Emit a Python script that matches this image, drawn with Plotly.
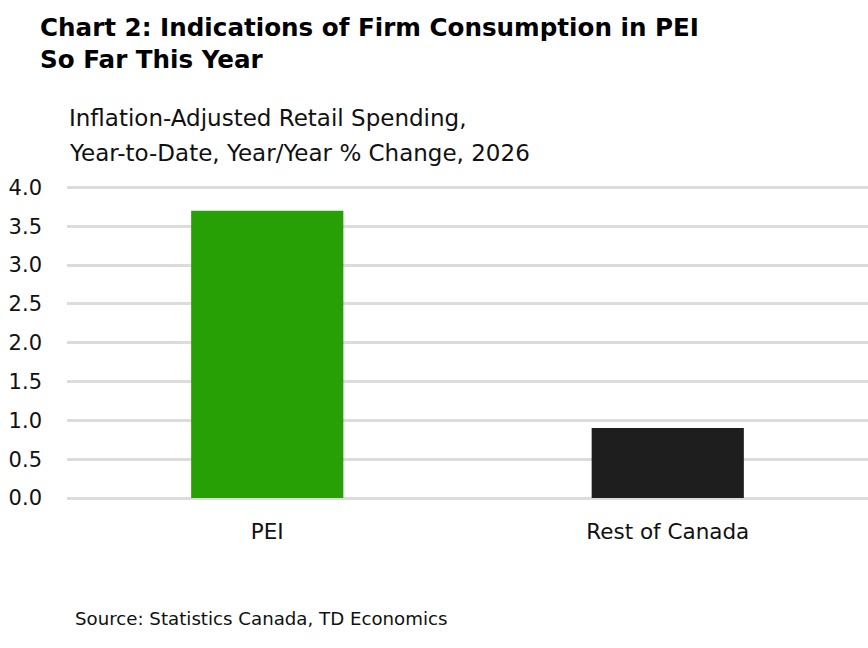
import plotly.graph_objects as go

categories = ["PEI", "Rest of Canada"]
values = [3.7, 0.9]
bar_colors = ["#26a005", "#1e1e1e"]
title_lines = ["Chart 2: Indications of Firm Consumption in PEI", "So Far This Year"]
subtitle_lines = ["Inflation-Adjusted Retail Spending,", "Year-to-Date, Year/Year % Change, 2026"]
source_text = "Source: Statistics Canada, TD Economics"
y_ticks = [0, 0.5, 1.0, 1.5, 2.0, 2.5, 3.0, 3.5, 4.0]

W, H = 868, 648
ML, MR, MT, MB = 67, 0, 185, 150
PW = W - ML - MR
PH = H - MT - MB
FONT = "DejaVu Sans"


def px(x):
    return (x - ML) / PW


def py(y):
    return (H - MB - y) / PH


fig = go.Figure(
    go.Bar(
        x=categories,
        y=values,
        marker=dict(color=bar_colors, line=dict(width=0)),
        width=0.38,
        hoverinfo="skip",
    )
)

annotations = []
for text, yc in zip(title_lines, [27, 59]):
    annotations.append(dict(text=f"<b>{text}</b>", x=px(38), y=py(yc), xref="paper", yref="paper",
                            xanchor="left", yanchor="middle", showarrow=False,
                            font=dict(family=FONT, size=24.6, color="#000000")))
for text, yc in zip(subtitle_lines, [118, 153]):
    annotations.append(dict(text=text, x=px(67), y=py(yc), xref="paper", yref="paper",
                            xanchor="left", yanchor="middle", showarrow=False,
                            font=dict(family=FONT, size=23, color="#111111")))
annotations.append(dict(text=source_text, x=px(73), y=py(618), xref="paper", yref="paper",
                        xanchor="left", yanchor="middle", showarrow=False,
                        font=dict(family=FONT, size=18.2, color="#111111")))

fig.update_layout(
    width=W, height=H,
    margin=dict(l=ML, r=MR, t=MT, b=MB, pad=0),
    paper_bgcolor="white", plot_bgcolor="white",
    showlegend=False,
    font=dict(family=FONT, color="#000000"),
    annotations=annotations,
    xaxis=dict(showgrid=False, showline=False, zeroline=False, ticks="",
               tickfont=dict(family=FONT, size=21.5, color="#111111"),
               ticklabelstandoff=18, fixedrange=True),
    yaxis=dict(range=[0, 4.03], tickvals=y_ticks, tickformat=".1f",
               showgrid=True, gridcolor="#dcdcdc", gridwidth=3,
               zeroline=True, zerolinecolor="#dcdcdc", zerolinewidth=3,
               showline=False, ticks="",
               tickfont=dict(family=FONT, size=21, color="#111111"),
               ticklabelstandoff=24, fixedrange=True),
)

fig.write_html("out.html", config={"displayModeBar": False})
